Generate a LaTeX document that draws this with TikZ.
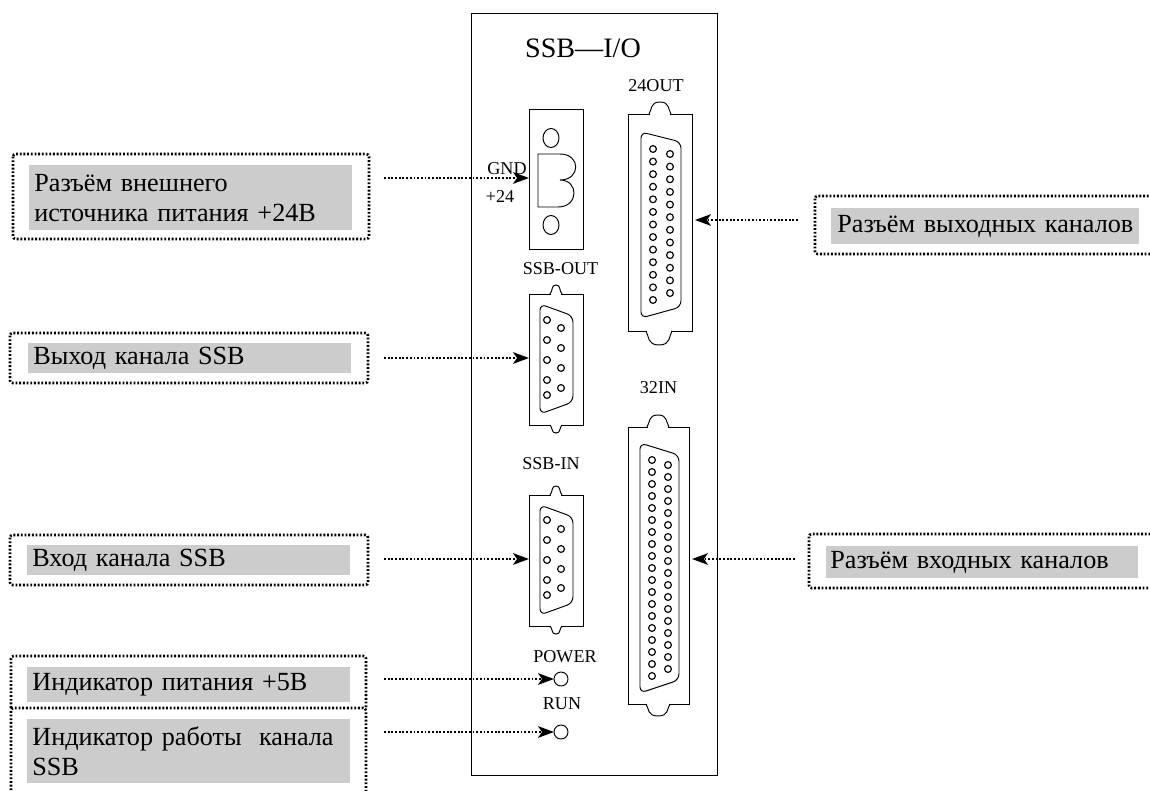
\documentclass[tikz,border=0pt]{standalone}
\usepackage{fontspec}
\setmainfont{Liberation Serif}
\usetikzlibrary{arrows.meta,fit}
\definecolor{labelgray}{HTML}{CCCCCC}
\tikzset{
  shellbox/.style={draw,line width=0.55pt,inner sep=0pt,outer sep=0pt},
  labelbox/.style={fill=labelgray,anchor=north west,align=left,inner xsep=0.1cm,inner ysep=0pt,
    text width=6.26cm,minimum height=#1,font=\fontsize{14.9}{17}\selectfont},
  dotbox/.style={line width=1.5pt,dash pattern=on 1.05pt off 1.05pt,rounded corners=1.5pt},
  pointer/.style={line width=1.5pt,dash pattern=on 1.05pt off 1.05pt,
    -{Stealth[length=9pt,width=6.5pt,inset=2.2pt]}},
  smalltext/.style={font=\fontsize{10.3}{12}\selectfont,inner sep=0pt},
}
\newcommand{\shellbump}[4]{%
  \fill[white] ({#1-#3+0.6},#2-1) rectangle ({#1+#3-0.6},#2+1);
  \draw[line width=0.55pt] ({#1-#3},#2) .. controls ({#1-#3+3},{#2+#4*0.35}) and ({#1-#3+1},{#2+#4}) .. (#1,{#2+#4})
    .. controls ({#1+#3-1},{#2+#4}) and ({#1+#3-3},{#2+#4*0.35}) .. ({#1+#3},#2);
}
\newcommand{\dsub}[6]{%
  \draw[line width=0.55pt,rounded corners=3.5pt] (#1,#3) -- (#2,#4) -- (#2,#5) -- (#1,#6) -- cycle;
}
\newcommand{\pincol}[4]{%
  \foreach \i in {1,...,#4} \draw[line width=0.65pt] (#1,{#2+(\i-1)*#3}) circle[radius=3.4];
}
\begin{document}
\begin{tikzpicture}[x=0.02cm,y=-0.02cm]
\useasboundingbox (0,0) rectangle (1150,791);
\clip (0,0) rectangle (1150,791);
\fill[white] (0,0) rectangle (1150,791);
\draw[line width=0.55pt] (471,13) rectangle (717,775);
\node[font=\fontsize{16}{18}\selectfont,inner sep=0pt] (paneltitle) at (583,48) {SSB—I/O};
% power connector
\node[shellbox,fit={(529,109) (583,249)}] (pwrcon) {};
\draw[line width=0.55pt] (551,138) ellipse (8 and 9.5);
\draw[line width=0.55pt] (551,225) ellipse (8 and 9.5);
\draw[line width=0.55pt] (560,180) .. controls (581,180) and (581,154) .. (560,154) -- (538,154) -- (538,207) -- (558,207)
  .. controls (579,207) and (579,180) .. (560,180);
% output channels
\node[smalltext] (out24text) at (656,86) {24OUT};
\node[shellbox,fit={(628,114) (692,331)}] (out24) {};
\shellbump{660}{114}{11}{-12}
\shellbump{659}{331}{13}{14}
\dsub{641}{681}{132}{142}{307}{318}
\pincol{653}{149}{12.58}{13}
\pincol{670}{154}{12.64}{12}
% input channels
\node[smalltext] (in32text) at (658.5,388) {32IN};
\node[shellbox,fit={(628,427) (689,704)}] (in32) {};
\shellbump{658}{427}{11}{-12}
\shellbump{658}{704}{12}{12}
\dsub{640}{679}{443}{455}{680}{693}
\pincol{652}{460}{12}{19}
\pincol{668}{465}{12}{18}
% SSB out
\node[smalltext] (ssbouttext) at (560.5,269) {SSB-OUT};
\node[shellbox,fit={(529,294) (583,425)}] (ssbout) {};
\shellbump{556}{294}{6}{-9}
\shellbump{556}{425}{6}{8}
\dsub{540}{573}{304}{316}{402}{414}
\pincol{547}{320}{20}{4}
\pincol{547}{395}{20}{1}
\pincol{561}{328}{20}{4}
% SSB in
\node[smalltext] (ssbintext) at (551,464) {SSB-IN};
\node[shellbox,fit={(529,495) (583,626)}] (ssbin) {};
\shellbump{556}{495}{6}{-9}
\shellbump{556}{626}{6}{8}
\dsub{540}{573}{505}{517}{603}{615}
\pincol{547}{520}{20}{4}
\pincol{547}{595}{20}{1}
\pincol{561}{529}{20}{3}
\pincol{561}{588}{20}{1}
% indicators
\node[smalltext] (powertext) at (565,657) {POWER};
\node[smalltext] (runtext) at (562,704) {RUN};
\node[shellbox,circle,minimum size=0.28cm] (pwrled) at (561,679) {};
\node[shellbox,circle,minimum size=0.28cm] (runled) at (561,732) {};
% left labels
\draw[dotbox] (13,154) rectangle (369,239);
\node[labelbox=1.3cm] (lblpwr) at (29,165) {Разъём внешнего\\источника питания +24В};
\draw[dotbox] (10,333) rectangle (368,383);
\node[labelbox=0.6cm] (lblout) at (28,343) {Выход канала SSB};
\draw[dotbox] (10,535) rectangle (368,585);
\node[labelbox=0.6cm] (lblin) at (27,545) {Вход канала SSB};
\draw[dotbox] (11,708) -- (11,656) -- (366,656) -- (366,708);
\draw[dotbox] (11,805) -- (11,708) -- (366,708) -- (366,805);
\node[labelbox=0.7cm] (lblpower) at (27,667) {Индикатор питания +5В};
\node[labelbox=1.28cm] (lblrun) at (27,719) {Индикатор работы\ \ канала\\SSB};
% right labels
\draw[dotbox] (815,196) rectangle (1165,254);
\node[labelbox=0.72cm,inner xsep=0.12cm,text width=5.92cm] (lblouts) at (831,208) {\mbox{Разъём выходных каналов}};
\draw[dotbox] (809,534) rectangle (1165,588);
\node[labelbox=0.64cm,inner xsep=0.08cm,text width=6.08cm] (lblins) at (826,546) {Разъём входных каналов};
% connectors
\coordinate (startpwr) at (384,178);
\coordinate (startout) at (384,358);
\coordinate (startin) at (384,559);
\coordinate (startpower) at (384,679);
\coordinate (startrun) at (384,732);
\coordinate (startouts) at (798,220);
\coordinate (startins) at (795,559);
\draw[pointer] (startpwr) -- (startpwr -| pwrcon.west);
\draw[pointer] (startout) -- (startout -| ssbout.west);
\draw[pointer] (startin) -- (startin -| ssbin.west);
\draw[pointer] (startpower) -- (pwrled.west);
\draw[pointer] (startrun) -- (runled.west);
\draw[pointer,shorten >=1.7pt] (startouts) -- (startouts -| out24.east);
\draw[pointer,shorten >=1.7pt] (startins) -- (startins -| in32.east);
\node[smalltext] (gndtext) at (507,169) {GND};
\node[smalltext] (plustext) at (500,197) {+24};
\end{tikzpicture}
\end{document}
